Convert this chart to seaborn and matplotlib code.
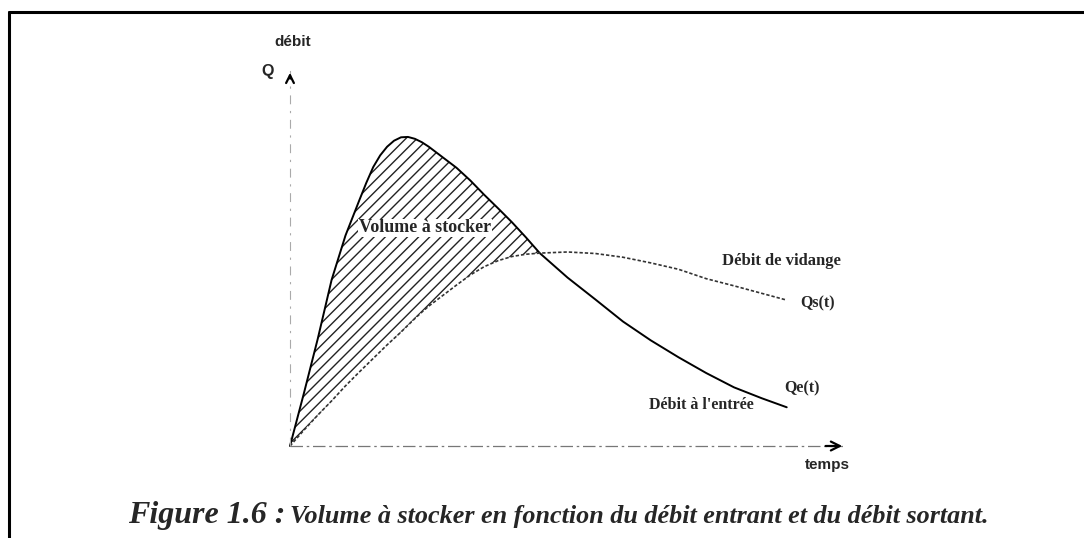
import numpy as np
import pandas as pd
import matplotlib
matplotlib.use("Agg")
import matplotlib.pyplot as plt
from matplotlib.lines import Line2D
import seaborn as sns

# donnees (unites arbitraires)
t = [0, 0.25, 0.5, 0.75, 1.0, 1.25, 1.375, 1.5, 1.625, 1.75, 1.875, 2.0, 2.125,
     2.25, 2.375, 2.5, 2.625, 2.75, 3.0, 3.25, 3.5, 3.75, 4.0, 4.25, 4.5, 5.0,
     5.5, 6.0, 6.5, 7.0, 7.5, 8.0, 8.5, 8.95]
qe = [0, 1.4, 2.85, 4.42, 5.6, 6.54, 7.0, 7.42, 7.73, 7.96, 8.12, 8.21, 8.22,
      8.17, 8.08, 7.96, 7.82, 7.68, 7.4, 7.06, 6.68, 6.32, 5.95, 5.55, 5.13, 4.48,
      3.9, 3.31, 2.81, 2.36, 1.94, 1.56, 1.27, 1.03]
qs = [0, 0.42, 0.82, 1.2, 1.6, 1.97, 2.15, 2.33, 2.51, 2.69, 2.86, 3.03, 3.21,
      3.39, 3.56, 3.72, 3.86, 4.0, 4.28, 4.55, 4.77, 4.93, 5.04, 5.1, 5.13, 5.16,
      5.12, 5.02, 4.87, 4.7, 4.45, 4.26, 4.06, 3.88]
axe_max = 10

df = pd.DataFrame({"t": t, "Qe": qe, "Qs": qs})

sns.set_theme(style="white")
plt.rcParams["hatch.linewidth"] = 1.0

fig = plt.figure(figsize=(10.84, 5.38), dpi=100)
ax = fig.add_axes([0, 0, 1, 1])
ax.set_xlim(-290 / 55.5, (1084 - 290) / 55.5)
ax.set_ylim(-(538 - 446) / 37.6, 446 / 37.6)
ax.axis("off")

# zone hachuree : volume a stocker
ax.fill_between(df["t"], df["Qs"], df["Qe"], where=df["Qe"] >= df["Qs"],
                interpolate=True, facecolor="none", edgecolor="#222222",
                hatch="///", linewidth=0)

sns.lineplot(data=df, x="t", y="Qe", ax=ax, color="black", lw=1.4)
sns.lineplot(data=df, x="t", y="Qs", ax=ax, color="#333333", lw=1.2,
             linestyle=(0, (2, 1.2)))

# axes en trait mixte
ax.plot([0, axe_max], [0, 0], color="#777777", lw=0.9, linestyle=(0, (10, 3, 2, 3)))
ax.plot([0, 0], [0, axe_max], color="#aaaaaa", lw=0.8, linestyle=(0, (8, 6, 2, 6)))
ax.annotate("", xy=(axe_max, 0), xytext=(axe_max - 0.4, 0),
            arrowprops=dict(arrowstyle="->", lw=1.6, color="black", mutation_scale=16))
ax.annotate("", xy=(0, axe_max), xytext=(0, axe_max - 0.3),
            arrowprops=dict(arrowstyle="->", lw=1.6, color="black", mutation_scale=14))

sans = "Liberation Sans"
serif = "Liberation Serif"
ax.text(0.05, 10.74, "débit", ha="center", va="center", fontsize=11,
        fontweight="bold", family=sans)
ax.text(-0.4, 9.97, "Q", ha="center", va="center", fontsize=11.5,
        fontweight="bold", family=sans)
ax.text(9.68, -0.51, "temps", ha="center", va="center", fontsize=11,
        fontweight="bold", family=sans)

ax.text(2.43, 5.8, "Volume à stocker", ha="center", va="center", fontsize=13,
        fontweight="bold", family=serif,
        bbox=dict(facecolor="white", edgecolor="none", pad=0.5))
ax.text(8.86, 4.92, "Débit de vidange", ha="center", va="center", fontsize=12,
        fontweight="bold", family=serif)
ax.text(9.5, 3.8, "Qs(t)", ha="center", va="center", fontsize=11.5,
        fontweight="bold", family=serif)
ax.text(9.23, 1.52, "Qe(t)", ha="center", va="center", fontsize=11.5,
        fontweight="bold", family=serif)
ax.text(7.42, 1.09, "Débit à l'entrée", ha="center", va="center", fontsize=11.5,
        fontweight="bold", family=serif)

# legende de la figure
fig.text(128 / 1084, 1 - 523 / 538, "Figure 1.6 :", ha="left", va="baseline",
         fontsize=23, fontweight="bold", style="italic", family=serif)
fig.text(290 / 1084, 1 - 523 / 538,
         "Volume à stocker en fonction du débit entrant et du débit sortant.",
         ha="left", va="baseline", fontsize=18.8, fontweight="bold",
         style="italic", family=serif)

# cadre (haut et gauche)
fig.add_artist(Line2D([9 / 1084, 1], [1 - 12 / 538] * 2, color="black", lw=2.2,
                      transform=fig.transFigure))
fig.add_artist(Line2D([9 / 1084] * 2, [0, 1 - 12 / 538], color="black", lw=2.2,
                      transform=fig.transFigure))

fig.savefig("out.png", dpi=100)
